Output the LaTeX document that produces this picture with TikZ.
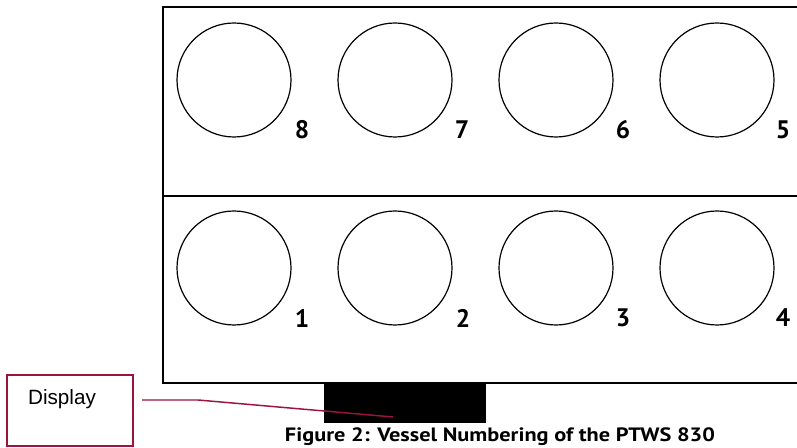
\documentclass[tikz,border=0pt]{standalone}
\usepackage{fontspec}
\setmainfont{Liberation Sans}
\newfontfamily\dinfont{PT Sans}
\definecolor{maroon}{RGB}{155,20,60}
\begin{document}
\begin{tikzpicture}[x=0.75pt,y=-0.75pt,
  frame/.style={line width=1.6pt},
  vessel/.style={draw,circle,line width=0.9pt,minimum size=85.5pt,inner sep=0pt},
  num/.style={font=\dinfont\bfseries\fontsize{19}{19}\selectfont,inner sep=0pt},
  dispbox/.style={draw=maroon,line width=1.1pt,minimum width=94.5pt,minimum height=53pt,inner sep=0pt},
  conn/.style={draw=maroon,line width=1.1pt}]
\useasboundingbox (0,0) rectangle (797,448);
\begin{scope}
\clip (0,0) rectangle (797,448);
\draw[frame] (805,7) -- (163,7) -- (163,383) -- (805,383);
\draw[frame] (163,196) -- (805,196);
\end{scope}
% vessels
\node[vessel] (v8) at (234,80) {};
\node[vessel] (v7) at (395,80) {};
\node[vessel] (v6) at (556,80) {};
\node[vessel] (v5) at (717,80) {};
\node[vessel] (v1) at (234,268) {};
\node[vessel] (v2) at (395,268) {};
\node[vessel] (v3) at (556,268) {};
\node[vessel] (v4) at (717,268) {};
\node[num] (n8) at (302,130) {8};
\node[num] (n7) at (462,130) {7};
\node[num] (n6) at (623,130) {6};
\node[num] (n5) at (783,130) {5};
\node[num] (n1) at (302,318) {1};
\node[num] (n2) at (463,318) {2};
\node[num] (n3) at (623,318) {3};
\node[num] (n4) at (783,318) {4};
% display block
\node[fill=black,minimum width=121.5pt,minimum height=30pt,inner sep=0pt] (disp) at (405,403) {};
\node[dispbox] (dbox) at (70,410.5) {};
\node[font=\fontsize{15.5}{15.5}\selectfont,inner sep=0pt] (dlabel) at (62,399.5) {Display};
\coordinate (c0) at (142,400);
\coordinate (c1) at (198,400);
\coordinate (tip) at (393,417);
\draw[conn] (c0) -- (c1) -- (tip);
\node[font=\dinfont\bfseries\fontsize{14.5}{14.5}\selectfont,inner sep=0pt] (cap) at (500,437) {\resizebox{322.5pt}{\height}{Figure 2: Vessel Numbering of the PTWS 830}};
\end{tikzpicture}
\end{document}
